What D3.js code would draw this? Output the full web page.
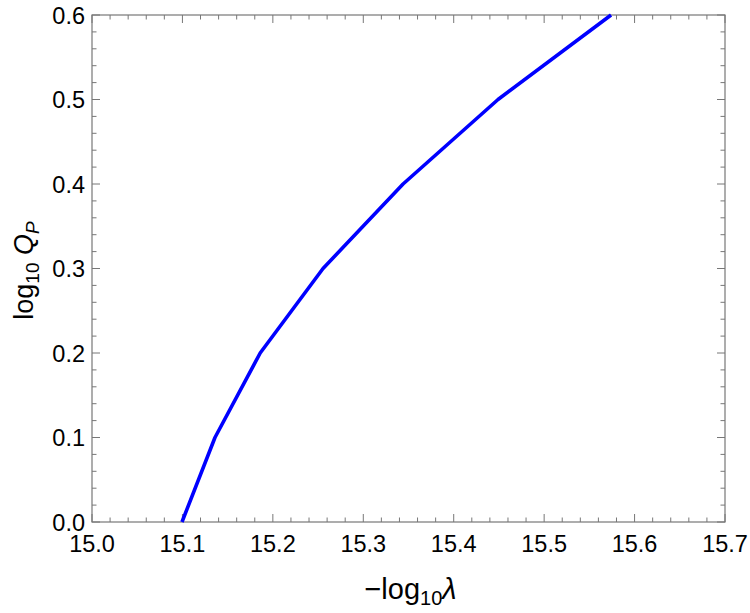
<!DOCTYPE html>
<html><head><meta charset="utf-8">
<script src="https://cdn.jsdelivr.net/npm/d3@7"></script>
<style>body{margin:0;background:#fff}svg{display:block}text{font-family:"Liberation Sans",Arial,sans-serif}</style>
</head><body>
<svg id="c" width="750" height="613"></svg>
<script>
const xVals = [15.0995, 15.136, 15.186, 15.2555, 15.344, 15.449, 15.574];
const yVals = [0.0, 0.1, 0.2, 0.3, 0.4, 0.5, 0.6];
const xTicks = [15.0, 15.1, 15.2, 15.3, 15.4, 15.5, 15.6, 15.7];
const yTicks = [0.0, 0.1, 0.2, 0.3, 0.4, 0.5, 0.6];

const svg = d3.select("#c");
const L = 92, R = 725, T = 15, B = 522;
const x = d3.scaleLinear().domain([15.0, 15.7]).range([L, R]);
const y = d3.scaleLinear().domain([0, 0.6]).range([B, T]);
const axisCol = "#777";

const minorX = d3.range(0, 36).map(i => 15.0 + i * 0.02);
const minorY = d3.range(0, 31).map(i => i * 0.02);
const isMajor = (v, step) => Math.abs(v / step - Math.round(v / step)) < 1e-6;

// frame
svg.append("rect").attr("x", L).attr("y", T).attr("width", R - L).attr("height", B - T)
  .attr("fill", "none").attr("stroke", axisCol).attr("stroke-width", 1.2);

const g = svg.append("g").attr("stroke", axisCol).attr("stroke-width", 1);
minorX.forEach(v => {
  const len = isMajor(v, 0.1) ? 8 : 4.5;
  const px = x(v);
  g.append("line").attr("x1", px).attr("x2", px).attr("y1", B).attr("y2", B - len);
  g.append("line").attr("x1", px).attr("x2", px).attr("y1", T).attr("y2", T + len);
});
minorY.forEach(v => {
  const len = isMajor(v, 0.1) ? 8 : 4.5;
  const py = y(v);
  g.append("line").attr("y1", py).attr("y2", py).attr("x1", L).attr("x2", L + len);
  g.append("line").attr("y1", py).attr("y2", py).attr("x1", R).attr("x2", R - len);
});

// tick labels
svg.append("g").selectAll("text").data(xTicks).join("text")
  .attr("x", d => x(d)).attr("y", 552).attr("text-anchor", "middle")
  .attr("font-size", 23.5).attr("fill", "#000").text(d => d.toFixed(1));
svg.append("g").selectAll("text").data(yTicks).join("text")
  .attr("x", 85).attr("y", d => y(d) + 8.5).attr("text-anchor", "end")
  .attr("font-size", 23.5).attr("fill", "#000").text(d => d.toFixed(1));

// line
svg.append("path").datum(xVals.map((v, i) => [v, yVals[i]]))
  .attr("fill", "none").attr("stroke", "#0000ff").attr("stroke-width", 3.6)
  .attr("stroke-linejoin", "round")
  .attr("d", d3.line().x(d => x(d[0])).y(d => y(d[1])));

// x title
const xt = svg.append("text").attr("x", (L + R) / 2 + 2).attr("y", 599)
  .attr("text-anchor", "middle").attr("font-size", 29).attr("fill", "#000");
xt.append("tspan").text("\u2212log");
xt.append("tspan").attr("font-size", 20).attr("dy", 6).text("10");
xt.append("tspan").attr("dy", -6).attr("font-style", "italic").text("\u03bb");

// y title
const yt = svg.append("text").attr("transform", `translate(33,${(T + B) / 2 + 2}) rotate(-90)`)
  .attr("text-anchor", "middle").attr("font-size", 27).attr("fill", "#000");
yt.append("tspan").text("log");
yt.append("tspan").attr("font-size", 19).attr("dy", 6).text("10");
yt.append("tspan").attr("dy", -6).text(" ");
yt.append("tspan").attr("font-style", "italic").text("Q");
yt.append("tspan").attr("font-style", "italic").attr("font-size", 19).attr("dy", 6).text("P");
</script>
</body></html>
